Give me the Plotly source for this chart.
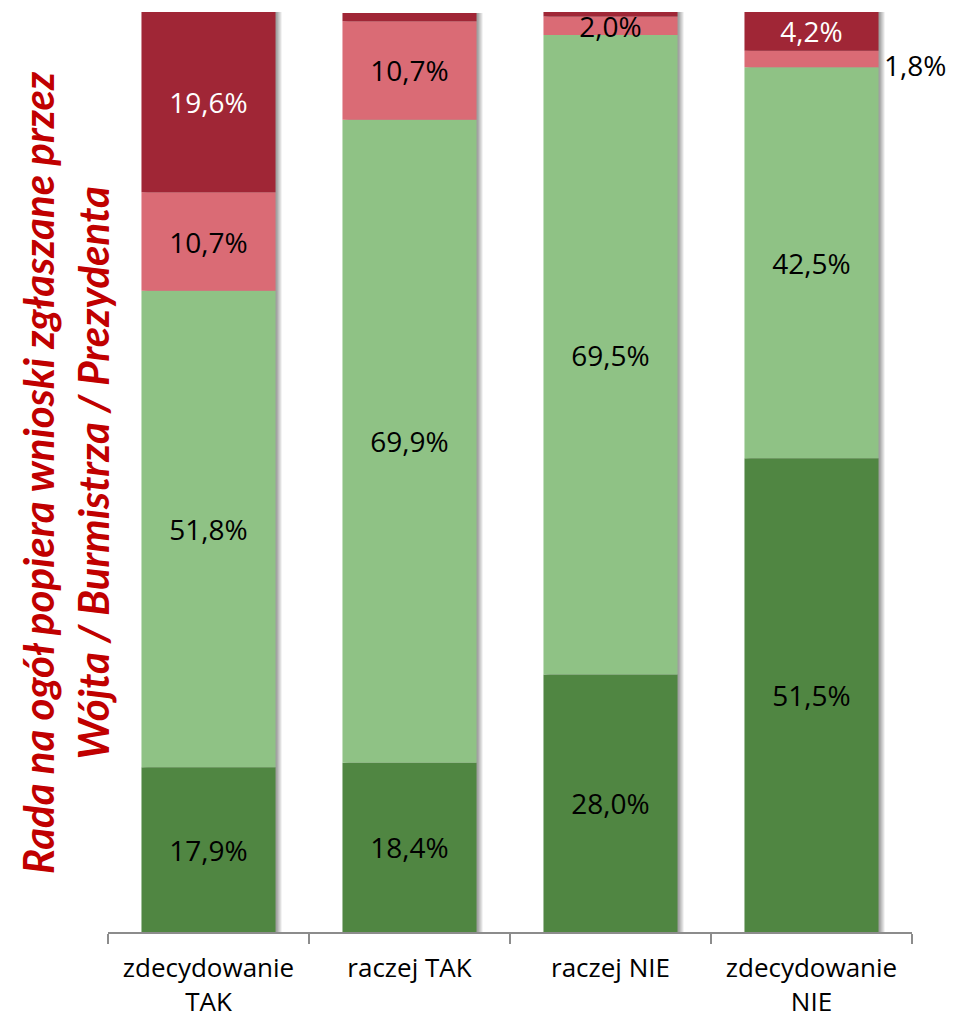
import plotly.graph_objects as go

categories = ["zdecydowanie<br>TAK", "raczej TAK", "raczej NIE", "zdecydowanie<br>NIE"]
zdecydowanie_tak_s = [17.9, 18.4, 28.0, 51.5]   # dark green (bottom)
raczej_tak_s = [51.8, 69.9, 69.5, 42.5]         # light green
raczej_nie_s = [10.7, 10.7, 2.0, 1.8]           # pink
zdecydowanie_nie_s = [19.6, 0.9, 0.5, 4.2]      # dark red (top)

series = [
    ("zdecydowanie tak", zdecydowanie_tak_s, "#508642", "black"),
    ("raczej tak", raczej_tak_s, "#8FC285", "black"),
    ("raczej nie", raczej_nie_s, "#DA6B75", "black"),
    ("zdecydowanie nie", zdecydowanie_nie_s, "#A02636", "white"),
]

y_title = "Rada na ogół popiera wnioski zgłaszane przez<br>Wójta / Burmistrza / Prezydenta"

BAR_W = 0.667


def fmt(v):
    return f"{v:.1f}".replace(".", ",") + "%"


fig = go.Figure()

totals = [sum(s[1][i] for s in series) for i in range(len(categories))]

# soft shadow on the right side of the bars
for k in range(1, 6):
    fig.add_trace(go.Bar(
        x=categories, y=totals, base=[0] * len(categories),
        width=BAR_W, offset=-BAR_W / 2 + k * 0.006,
        marker=dict(color="rgba(0,0,0,0.09)", line=dict(width=0)),
        hoverinfo="skip", showlegend=False,
    ))

bases = [0.0] * len(categories)
outside_labels = []
for name, vals, color, tcolor in series:
    texts = []
    for i, v in enumerate(vals):
        if v < 1.0:
            texts.append("")
        elif name == "raczej nie" and i == 3:
            texts.append("")
            outside_labels.append((categories[i], bases[i] + v / 2, fmt(v)))
        else:
            texts.append(fmt(v))
    fig.add_trace(go.Bar(
        x=categories, y=vals, base=list(bases), name=name,
        width=BAR_W, offset=-BAR_W / 2,
        marker=dict(color=color, line=dict(width=0)),
        text=texts, textposition="inside", insidetextanchor="middle",
        constraintext="none",
        textfont=dict(family="Open Sans", size=28, color=tcolor),
        showlegend=False,
    ))
    bases = [b + v for b, v in zip(bases, vals)]

for cat, yv, txt in outside_labels:
    fig.add_annotation(
        x=cat, y=yv, text=txt, showarrow=False,
        xanchor="left", yanchor="middle", xshift=BAR_W / 2 * 201 + 3, yshift=-6,
        font=dict(family="Open Sans", size=28, color="black"),
    )

fig.add_annotation(
    text=y_title, xref="paper", yref="paper", x=-0.0535, y=0.5,
    xanchor="center", yanchor="middle", textangle=-90, showarrow=False,
    font=dict(family="Lato", size=42, color="#C00000",
              weight="bold", style="italic"),
)

fig.update_layout(
    width=961, height=1024,
    margin=dict(l=100, r=57, t=4, b=100),
    barmode="overlay",
    plot_bgcolor="white", paper_bgcolor="white",
    xaxis=dict(
        type="category", range=[-0.5, 3.5],
        showline=True, linecolor="#8C8C8C", linewidth=2,
        ticks="outside", tickson="boundaries", ticklen=10, tickwidth=2, tickcolor="#8C8C8C",
        tickfont=dict(family="Open Sans", size=26, color="black"),
        ticklabelstandoff=12,
        showgrid=False,
    ),
    yaxis=dict(range=[0, 100], visible=False, showgrid=False),
)

fig.write_html("out.html")
